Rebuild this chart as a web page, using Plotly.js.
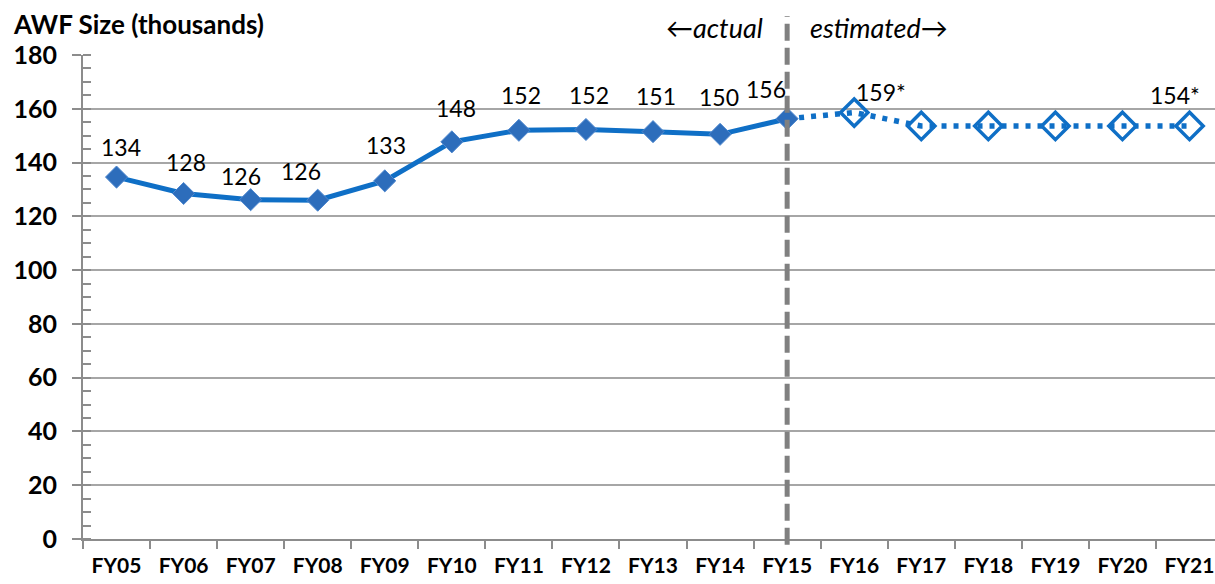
<!DOCTYPE html>
<html><head><meta charset="utf-8">
<script src="https://cdn.plot.ly/plotly-3.0.1.min.js"></script>
<style>html,body{margin:0;padding:0;background:#fff}#c{width:1215px;height:584px}</style>
</head><body><div id="c"></div>
<script>
const categories = ['FY05','FY06','FY07','FY08','FY09','FY10','FY11','FY12','FY13','FY14','FY15','FY16','FY17','FY18','FY19','FY20','FY21'];
const actualYears = ['FY05','FY06','FY07','FY08','FY09','FY10','FY11','FY12','FY13','FY14','FY15'];
const actualValues = [134.6,128.5,126.2,126.0,133.2,147.7,152.0,152.3,151.5,150.5,156.3];
const estYears = ['FY15','FY16','FY17','FY18','FY19','FY20','FY21'];
const estValues = [156.3,158.6,153.6,153.6,153.6,153.6,153.6];
const estMarkerYears = ['FY16','FY17','FY18','FY19','FY20','FY21'];
const estMarkerValues = [158.6,153.6,153.6,153.6,153.6,153.6];
const labelYears = ['FY05','FY06','FY07','FY08','FY09','FY10','FY11','FY12','FY13','FY14','FY15','FY16','FY21'];
const labelValues = [134.6,128.5,126.2,126.0,133.2,147.7,152.0,152.3,151.5,150.5,156.3,158.6,153.6];
const labelTexts = ['134','128','126','126','133','148','152','152','151','150','156','159*','154*'];
// styling offsets (pixels) for label placement
const labelDx = [4,2,-10,-17,1,4,2,3,3,-1,-21,27,-15];
const labelDy = [30,31,24,29,36,34,35,34,36,37,30,21,31];

const blue = '#0F6FC6';
const traces = [
  {x: estYears, y: estValues, type:'scatter', mode:'lines',
   line:{color:blue, width:5.5, dash:'5px,7px'}, hoverinfo:'skip', showlegend:false},
  {x: actualYears, y: actualValues, type:'scatter', mode:'lines+markers',
   line:{color:blue, width:5},
   marker:{symbol:'diamond', size:17, color:'#2D6DBB', line:{color:'#4F88CF', width:1}},
   showlegend:false},
  {x: estMarkerYears, y: estMarkerValues, type:'scatter', mode:'markers',
   marker:{symbol:'diamond-open', size:21, color:blue, line:{color:blue, width:3.5}},
   showlegend:false}
];

const annotations = labelTexts.map((t,i)=>({
  x: labelYears[i], y: labelValues[i], xref:'x', yref:'y', text:t, showarrow:false,
  xshift: labelDx[i], yshift: labelDy[i], xanchor:'center', yanchor:'middle',
  font:{family:'Lato, sans-serif', size:23, color:'#000'}
}));
annotations.push({xref:'paper', yref:'paper', x:(765-83)/1132, y:1+(55-28)/484, xanchor:'right', yanchor:'middle',
  text:'\u2190actual', showarrow:false, font:{family:'Lato, sans-serif', size:27, color:'#000', style:'italic'}});
annotations.push({xref:'paper', yref:'paper', x:(808-83)/1132, y:1+(55-28)/484, xanchor:'left', yanchor:'middle',
  text:'estimated\u2192', showarrow:false, font:{family:'Lato, sans-serif', size:27, color:'#000', style:'italic'}});

const layout = {
  width:1215, height:584,
  margin:{l:83, r:0, t:55, b:45},
  paper_bgcolor:'#fff', plot_bgcolor:'#fff',
  font:{family:'Lato, sans-serif', color:'#000'},
  title:{text:'<b>AWF Size (thousands)</b>', xref:'container', yref:'container',
    x:14/1215, xanchor:'left', y:1-25/584, yanchor:'middle',
    font:{family:'Lato, sans-serif', size:26, color:'#000'}},
  xaxis:{type:'category', categoryorder:'array', categoryarray:categories,
    range:[-0.5, 16.38], tickson:'boundaries', ticks:'outside', ticklen:8, tickwidth:2, tickcolor:'#8c8c8c',
    showline:true, linecolor:'#8c8c8c', linewidth:2, showgrid:false, zeroline:false,
    tickfont:{family:'Lato, sans-serif', size:21, color:'#000', weight:'bold'}, ticklabelstandoff:7,
    fixedrange:true},
  yaxis:{range:[0,180], dtick:20, tick0:0, ticks:'outside', ticklen:9, tickwidth:2, tickcolor:'#8c8c8c',
    showline:true, linecolor:'#8c8c8c', linewidth:2, showgrid:true, gridcolor:'#a6a6a6', gridwidth:2,
    zeroline:false,
    minor:{dtick:5, ticks:'inside', ticklen:8, tickwidth:2, tickcolor:'#8c8c8c', showgrid:false},
    tickfont:{family:'Lato, sans-serif', size:25, color:'#000', weight:'bold'}, ticklabelstandoff:10,
    fixedrange:true},
  shapes:[{type:'line', xref:'x', yref:'paper', x0:'FY15', x1:'FY15', y0:-0.012, y1:1+(55-16)/484,
    line:{color:'#808080', width:5, dash:'17px,7px'}, layer:'above'}],
  annotations: annotations
};
Plotly.newPlot('c', traces, layout, {displayModeBar:false, staticPlot:true});
</script></body></html>
